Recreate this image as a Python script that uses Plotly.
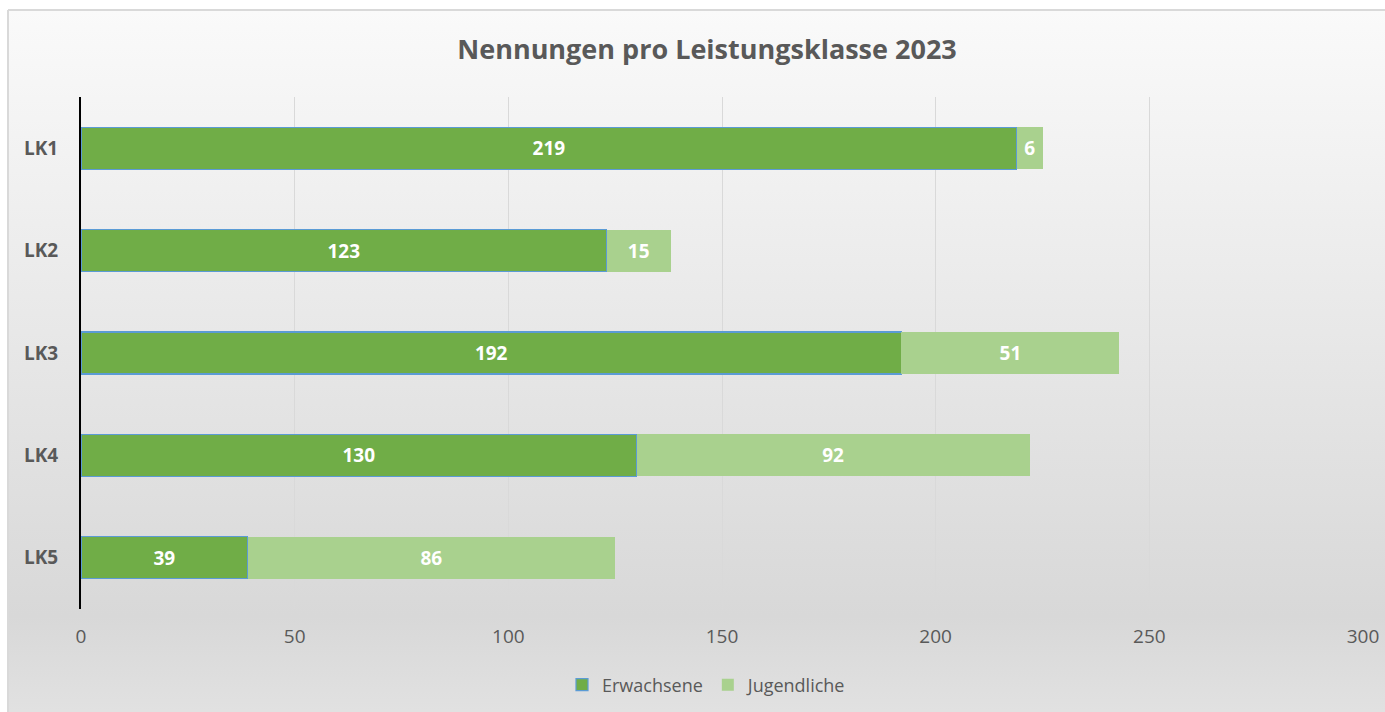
import base64
import plotly.graph_objects as go

categories = ["LK1", "LK2", "LK3", "LK4", "LK5"]
erwachsene = [219, 123, 192, 130, 39]
jugendliche = [6, 15, 51, 92, 86]
x_ticks = [0, 50, 100, 150, 200, 250, 300]
title_text = "Nennungen pro Leistungsklasse 2023"

W, H = 1385, 712
OFF = 0  # body margin removed below, so screen = figure coordinates
ML = 81 - OFF
MT = 97 - OFF
MR = W - (1363 - OFF)
MB = H - (609 - OFF)
PW, PH = W - ML - MR, H - MT - MB

def px_x(screen_x):
    return (screen_x - OFF - ML) / PW

def px_y(screen_y):
    return (H - MB - (screen_y - OFF)) / PH

FONT = "Open Sans"
TXT = "#595959"

svg = (
    '<svg xmlns="http://www.w3.org/2000/svg" width="100" height="100" preserveAspectRatio="none">'
    '<defs><linearGradient id="g" x1="0" y1="0" x2="0" y2="1">'
    '<stop offset="0" stop-color="#fafafa"/>'
    '<stop offset="0.84" stop-color="#d8d8d8"/>'
    '<stop offset="1" stop-color="#e3e3e3"/>'
    '</linearGradient></defs>'
    '<rect width="100" height="100" fill="url(#g)"/></svg>'
)
src = "data:image/svg+xml;base64," + base64.b64encode(svg.encode()).decode()

fig = go.Figure()
fig.add_trace(go.Bar(
    y=categories, x=erwachsene, name="Erwachsene", orientation="h",
    marker=dict(color="#70ad47", line=dict(color="#5b9bd5", width=1.2)),
    text=erwachsene, textposition="inside", insidetextanchor="middle",
    textfont=dict(color="white", size=19, family=FONT, weight="bold"),
    width=0.41,
))
fig.add_trace(go.Bar(
    y=categories, x=jugendliche, name="Jugendliche", orientation="h",
    marker=dict(color="#a9d18e", line=dict(width=0)),
    text=jugendliche, textposition="inside", insidetextanchor="middle",
    textfont=dict(color="white", size=19, family=FONT, weight="bold"),
    width=0.41,
))

x0, x1 = px_x(8), px_x(W + 20)
y0, y1 = px_y(H + 20), px_y(10)

fig.update_layout(
    width=W, height=H,
    margin=dict(l=ML, r=MR, t=MT, b=MB, autoexpand=False),
    barmode="stack",
    paper_bgcolor="white",
    plot_bgcolor="rgba(0,0,0,0)",
    font=dict(family=FONT, color=TXT, size=18),
    title=dict(
        text=title_text, x=(707 - OFF) / W, xanchor="center", xref="container",
        y=1 - (50 - OFF) / H, yanchor="middle", yref="container",
        font=dict(size=27, color=TXT, family=FONT, weight="bold"),
    ),
    xaxis=dict(
        range=[0, 300], tickvals=x_ticks, showgrid=True, gridcolor="#d9d9d9",
        gridwidth=1, zeroline=False, showline=False, ticks="",
        tickfont=dict(size=19, color=TXT), ticklabelstandoff=14,
    ),
    yaxis=dict(
        categoryorder="array", categoryarray=categories[::-1],
        showline=True, linecolor="black", linewidth=2, showgrid=False,
        zeroline=False, ticks="", ticklabelstandoff=17,
        tickfont=dict(size=19, color=TXT, weight="bold"),
    ),
    legend=dict(
        orientation="h", x=px_x(707), xanchor="center", y=px_y(685), yanchor="middle",
        font=dict(size=18, color=TXT), bgcolor="rgba(0,0,0,0)",
        itemwidth=30, traceorder="normal",
    ),
    images=[dict(
        source=src, xref="paper", yref="paper", x=x0, y=y1,
        sizex=x1 - x0, sizey=y1 - y0, sizing="stretch",
        xanchor="left", yanchor="top", layer="below",
    )],
    shapes=[
        dict(type="line", xref="paper", yref="paper", x0=x0, x1=x1, y0=y1, y1=y1,
             line=dict(color="#d9d9d9", width=2), layer="below"),
        dict(type="line", xref="paper", yref="paper", x0=x0, x1=x0, y0=y0, y1=y1,
             line=dict(color="#d9d9d9", width=2), layer="below"),
    ],
    showlegend=True,
)

fig.write_html(
    "out.html",
    config={"displayModeBar": False},
    post_script=(
        "document.body.style.margin='0';"
        "document.documentElement.style.overflow='hidden';"
        "document.body.style.overflow='hidden';"
    ),
)
